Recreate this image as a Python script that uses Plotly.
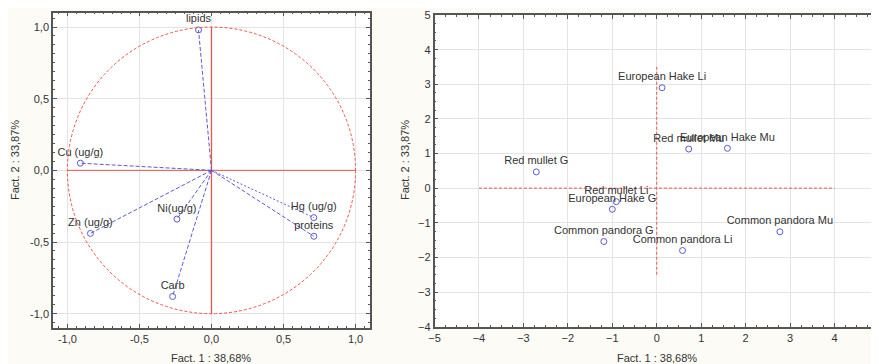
import plotly.graph_objects as go

# ---- Data: variable loadings (left) ----
var_names = ["lipids", "Cu (ug/g)", "Zn (ug/g)", "Ni(ug/g)", "Carb", "Hg (ug/g)", "proteins"]
var_f1 = [-0.09, -0.91, -0.84, -0.24, -0.27, 0.71, 0.71]
var_f2 = [0.98, 0.05, -0.44, -0.34, -0.88, -0.33, -0.46]
var_dash = ["4px,2px", "4px,2px", "4px,2px", "4px,2px", "4px,2px", "2px,2px", "4px,2px"]

# ---- Data: case scores (right) ----
case_names = ["European Hake Li", "Red mullet Mu", "European Hake Mu", "Red mullet G",
              "Red mullet Li", "European Hake G", "Common pandora G",
              "Common pandora Li", "Common pandora Mu"]
case_f1 = [0.12, 0.72, 1.59, -2.71, -0.91, -1.00, -1.19, 0.58, 2.77]
case_f2 = [2.90, 1.13, 1.15, 0.47, -0.39, -0.61, -1.54, -1.80, -1.26]

left_ticks = [-1.0, -0.5, 0.0, 0.5, 1.0]
left_ticktext = ["-1,0", "-0,5", "0,0", "0,5", "1,0"]
right_xticks = [-5, -4, -3, -2, -1, 0, 1, 2, 3, 4, 5]
right_yticks = [-4, -3, -2, -1, 0, 1, 2, 3, 4, 5]

# reference-line extents
left_ref = [-1, 1]
right_hline = [-4, 4]
right_vline = [-2.5, 3.5]

x_title = "Fact. 1 : 38,68%"
y_title = "Fact. 2 : 33,87%"

BLUE = "#5b5bd0"
RED = "#e8564a"
TXT = "#333333"
FONT = "Liberation Sans, Arial, sans-serif"
W, H = 871, 356   # page has an 8px body margin

fig = go.Figure()

shapes = [
    dict(type="circle", xref="x", yref="y", x0=-1, y0=-1, x1=1, y1=1,
         line=dict(color=RED, width=1, dash="3px,2px")),
]

def ref_line(xs, ys, ax, ay, dash, width=1):
    fig.add_trace(go.Scatter(x=xs, y=ys, mode="lines",
                             line=dict(color=RED, width=width, dash=dash),
                             xaxis=ax, yaxis=ay, showlegend=False, hoverinfo="skip"))

ref_line([0, 0], left_ref, "x", "y", "solid", width=1.3)
ref_line(left_ref, [0, 0], "x", "y", "solid")
ref_line([0, 0], right_vline, "x2", "y2", "3px,2px")
ref_line(right_hline, [0, 0], "x2", "y2", "3px,2px")

# loading vectors
for n, x, y, d in zip(var_names, var_f1, var_f2, var_dash):
    fig.add_trace(go.Scatter(x=[0, x], y=[0, y], mode="lines",
                             line=dict(color=BLUE, width=1, dash=d),
                             xaxis="x", yaxis="y", showlegend=False, hoverinfo="skip"))
fig.add_trace(go.Scatter(x=var_f1, y=var_f2, mode="markers+text", text=var_names,
                         textposition="top center",
                         textfont=dict(size=11, color=TXT, family=FONT),
                         marker=dict(symbol="circle-open", size=6, color=BLUE, line=dict(width=1)),
                         xaxis="x", yaxis="y", showlegend=False))

fig.add_trace(go.Scatter(x=case_f1, y=case_f2, mode="markers+text", text=case_names,
                         textposition="top center",
                         textfont=dict(size=11, color=TXT, family=FONT),
                         marker=dict(symbol="circle-open", size=6, color=BLUE, line=dict(width=1)),
                         xaxis="x2", yaxis="y2", showlegend=False))

common_axis = dict(showline=True, linecolor="#555555", linewidth=1.5, mirror="allticks",
                   ticks="inside", ticklen=4, tickcolor="#555555", automargin=False,
                   showgrid=True, gridcolor="#e4e4e4", gridwidth=1, zeroline=False,
                   showspikes=False,
                   tickfont=dict(size=11, color=TXT, family=FONT))

def title_ann(text, px, py, angle=0):
    return dict(text=text, x=px / W, y=1 - py / H, xref="paper", yref="paper",
                xanchor="center", yanchor="middle", showarrow=False, textangle=angle,
                font=dict(size=11, color=TXT))

fig.update_layout(
    width=W, height=H,
    margin=dict(l=0, r=0, t=0, b=0),
    paper_bgcolor="#fcfbf6", plot_bgcolor="white",
    font=dict(family=FONT, color=TXT, size=11),
    shapes=shapes,
    xaxis=dict(domain=[0.05166, 0.41561], range=[-1.1, 1.1], anchor="y",
               tickvals=left_ticks, ticktext=left_ticktext,
               minor=dict(dtick=0.0625, ticks="inside", ticklen=2, tickcolor="#555555", showgrid=False),
               **common_axis),
    yaxis=dict(domain=[0.1011, 0.9868], range=[-1.1, 1.1], anchor="x",
               tickvals=left_ticks, ticktext=left_ticktext,
               minor=dict(dtick=0.0625, ticks="inside", ticklen=2, tickcolor="#555555", showgrid=False),
               **common_axis),
    xaxis2=dict(domain=[0.48967, 1.0], range=[-5, 5], anchor="y2",
                tickvals=right_xticks,
                minor=dict(dtick=0.25, ticks="inside", ticklen=2, tickcolor="#555555", showgrid=False),
                **common_axis),
    yaxis2=dict(domain=[0.1048, 0.9803], range=[-4, 5], anchor="x2",
                tickvals=right_yticks,
                minor=dict(dtick=0.25, ticks="inside", ticklen=2, tickcolor="#555555", showgrid=False),
                **common_axis),
    annotations=[
        title_ann(x_title, 203, 350),
        title_ann(x_title, 649, 350),
        title_ann(y_title, 7, 152, -90),
        title_ann(y_title, 397, 152, -90),
    ],
)

fig.write_html("out.html")
